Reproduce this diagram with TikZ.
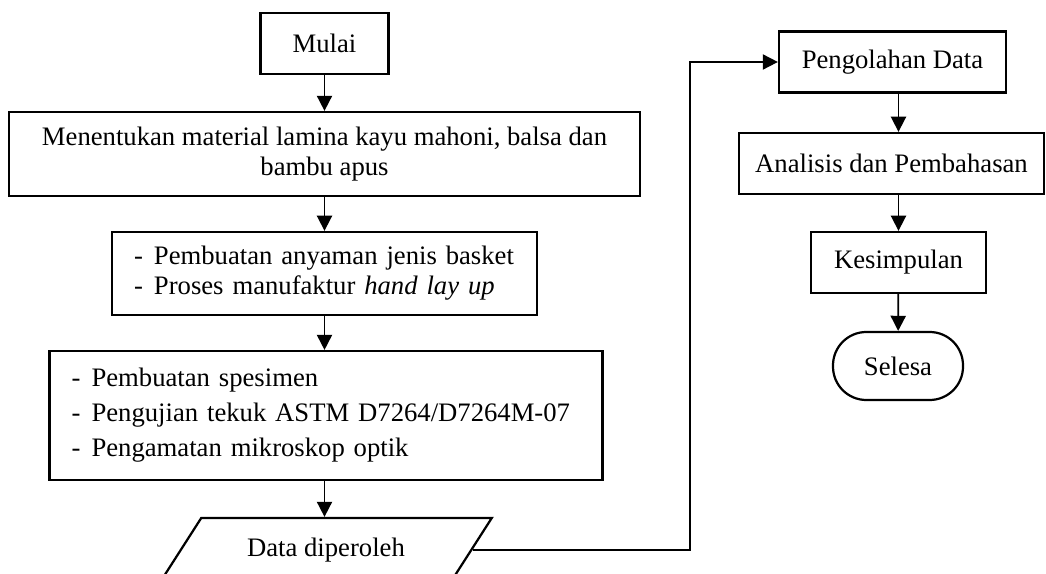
\documentclass[tikz,border=0pt]{standalone}
\usepackage{fontspec}
\setmainfont{Liberation Serif}
\usetikzlibrary{arrows.meta,shapes.geometric}

\begin{document}
\begin{tikzpicture}[x=0.45pt,y=-0.45pt,font=\fontsize{12}{13.5}\selectfont]
\tikzset{
    kotak/.style={draw, line width=1pt, inner sep=0pt, align=center, minimum height=27.5pt},
    daftar/.style={draw, line width=1pt, inner xsep=9.9pt, inner ysep=0pt, align=left},
    panah/.style={line width=0.8pt, -{Triangle[length=6.8pt,width=6.8pt]}},
}
\def\butir#1{\makebox[0.75em][l]{-}#1}
\useasboundingbox (0,0) rectangle (1046,574);

% Left column, top to bottom.
\node[kotak, minimum width=57.6pt] (mulai) at (324.5,43.5) {Mulai};
\node[kotak, minimum width=284pt, minimum height=37.8pt] (material) at (324.5,154) {Menentukan material lamina kayu mahoni, balsa dan\\bambu apus};
\node[daftar, text width=171.45pt, minimum height=37.4pt] (anyaman) at (324.5,273.5) {\butir{Pembuatan anyaman jenis basket}\\\butir{Proses manufaktur \textit{hand lay up}}};
\node[daftar, text width=229pt, minimum height=58pt, font=\fontsize{12}{15.75}\selectfont] (uji) at (326,415.5) {\butir{Pembuatan spesimen}\\\butir{Pengujian tekuk ASTM D7264/D7264M-07}\\\butir{Pengamatan mikroskop optik}};
\node[draw, line width=1pt, trapezium, trapezium left angle=43, trapezium right angle=137, trapezium stretches=true, minimum width=149.4pt, minimum height=28.8pt, inner sep=0pt] (data) at (326,550) {Data diperoleh};

% Right column.
\node[kotak, minimum width=102.15pt] (olah) at (892.5,62) {Pengolahan Data};
\node[kotak, minimum width=137.25pt] (analisis) at (891.5,163.5) {Analisis dan Pembahasan};
\node[kotak, minimum width=78.75pt] (simpul) at (898.5,262.5) {Kesimpulan};
\node[kotak, rounded corners=15pt, minimum width=58.5pt, minimum height=30.6pt] (selesai) at (898,366) {Selesa};

% Arrows down the left column.
\draw[panah] (mulai) -- (material);
\draw[panah] (material) -- (anyaman);
\draw[panah] (anyaman.south) -- (anyaman.south |- uji.north);
\draw[panah] (anyaman.south |- uji.south) -- (anyaman.south |- data.north);

% From the data over to the right column.
\coordinate (belok) at (690,62); % corner of the loop
\draw[panah] (data.east) -| (belok) -- (olah.west);

% Arrows down the right column.
\draw[panah] (olah.south -| simpul) -- (analisis.north -| simpul);
\draw[panah] (analisis.south -| simpul) -- (simpul.north);
\draw[panah] (simpul) -- (selesai);
\end{tikzpicture}
\end{document}
